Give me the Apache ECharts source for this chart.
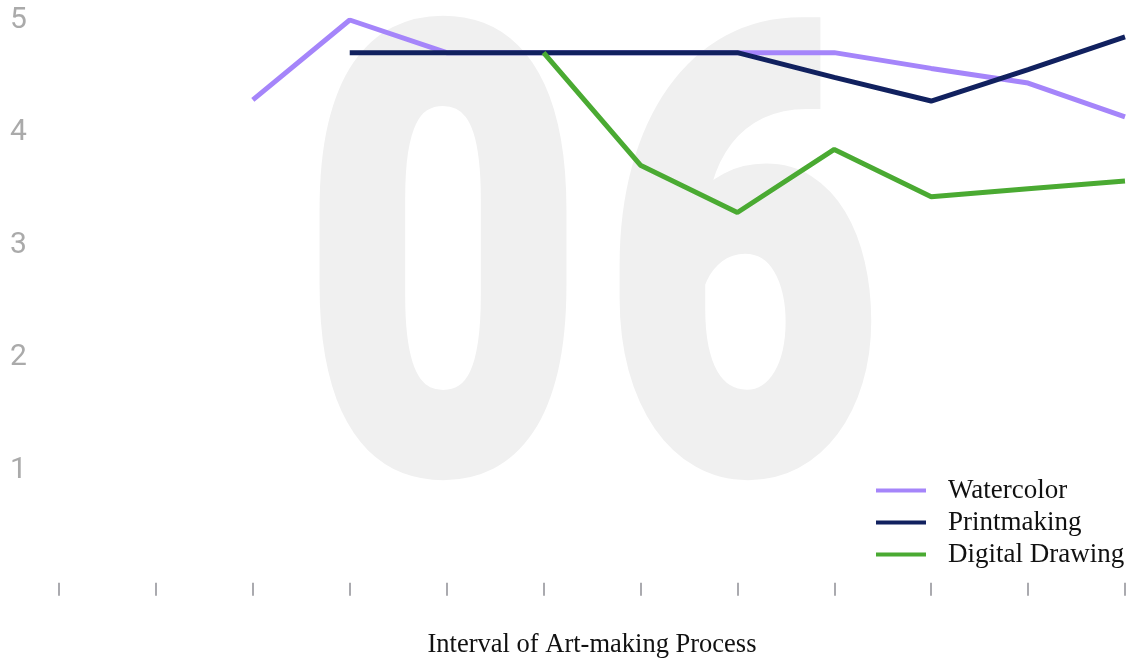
<!DOCTYPE html>
<html>
	<head>
		<meta charset="UTF-8">
		<script src="https://cdn.jsdelivr.net/npm/echarts@6/dist/echarts.min.js"></script>
		<style>
			html, body { margin: 0; padding: 0; background: #fff; }
			#chart { width: 1139px; height: 663px; }
		</style>
	</head>
	<body>
		<div id="chart"></div>
		<script type="text/javascript">
			// data
			var intervals = ['1', '2', '3', '4', '5', '6', '7', '8', '9', '10', '11', '12'];
			var watercolor = [null, null, 4.29, 5.0, 4.71, 4.71, 4.71, 4.71, 4.71, 4.57, 4.44, 4.14];
			var printmaking = [null, null, null, 4.71, 4.71, 4.71, 4.71, 4.71, 4.49, 4.28, 4.56, 4.85];
			var digitalDrawing = [null, null, null, null, null, 4.71, 3.71, 3.29, 3.85, 3.43, 3.50, 3.57];
			var yTicks = [1, 2, 3, 4, 5];

			var serif = "'Liberation Serif', 'DejaVu Serif', serif";
			var chart = echarts.init(document.getElementById('chart'));

			function line(name, data, color) {
				return {
					name: name,
					type: 'line',
					data: data,
					symbol: 'none',
					lineStyle: { width: 5, color: color },
					itemStyle: { color: color }
				};
			}

			// one big light digit of the "06" watermark
			function bigDigit(ch, cx) {
				return {
					type: 'text',
					z: -10,
					silent: true,
					x: cx,
					y: 613,
					scaleX: 0.787,
					style: {
						text: ch,
						x: 0,
						y: 0,
						textAlign: 'center',
						textVerticalAlign: 'bottom',
						font: "bold 603px Roboto, sans-serif",
						fill: '#f0f0f0',
						stroke: '#f0f0f0',
						lineWidth: 24,
						lineJoin: 'round'
					}
				};
			}

			chart.setOption({
				animation: false,
				graphic: [bigDigit('0', 443), bigDigit('6', 742)],
				grid: { left: 59, right: 14, top: 20, bottom: 70, outerBoundsMode: 'none' },
				legend: {
					orient: 'vertical',
					left: 876,
					top: 477,
					padding: 0,
					icon: 'rect',
					itemWidth: 50,
					itemHeight: 4,
					itemGap: 5,
					textStyle: { fontFamily: serif, fontSize: 27, color: '#111', padding: [0, 0, 0, 17] },
					data: ['Watercolor', 'Printmaking', 'Digital Drawing']
				},
				xAxis: {
					type: 'category',
					data: intervals,
					boundaryGap: false,
					name: 'Interval of Art-making Process',
					nameLocation: 'middle',
					nameGap: 39,
					nameTextStyle: { fontFamily: serif, fontSize: 26.5, color: '#111' },
					axisLine: { show: false },
					axisTick: { show: true, length: 13, lineStyle: { color: '#aaaaaf', width: 2 } },
					axisLabel: { show: false },
					splitLine: { show: false }
				},
				yAxis: {
					type: 'value',
					// a little room under zero so the ticks sit below the data area
					min: -0.09,
					max: 5,
					axisLine: { show: false },
					axisTick: { show: false },
					splitLine: { show: false },
					axisLabel: {
						align: 'left',
						margin: 49,
						padding: [5, 0, 0, 0],
						fontFamily: "Roboto, sans-serif",
						fontSize: 30,
						color: '#aaaaaa',
						showMinLabel: false,
						formatter: function(v) {
							return yTicks.indexOf(v) >= 0 ? String(v) : '';
						}
					}
				},
				series: [
					line('Watercolor', watercolor, '#a585fa'),
					line('Printmaking', printmaking, '#11215f'),
					line('Digital Drawing', digitalDrawing, '#4aaa32')
				]
			});
		</script>
	</body>
</html>
